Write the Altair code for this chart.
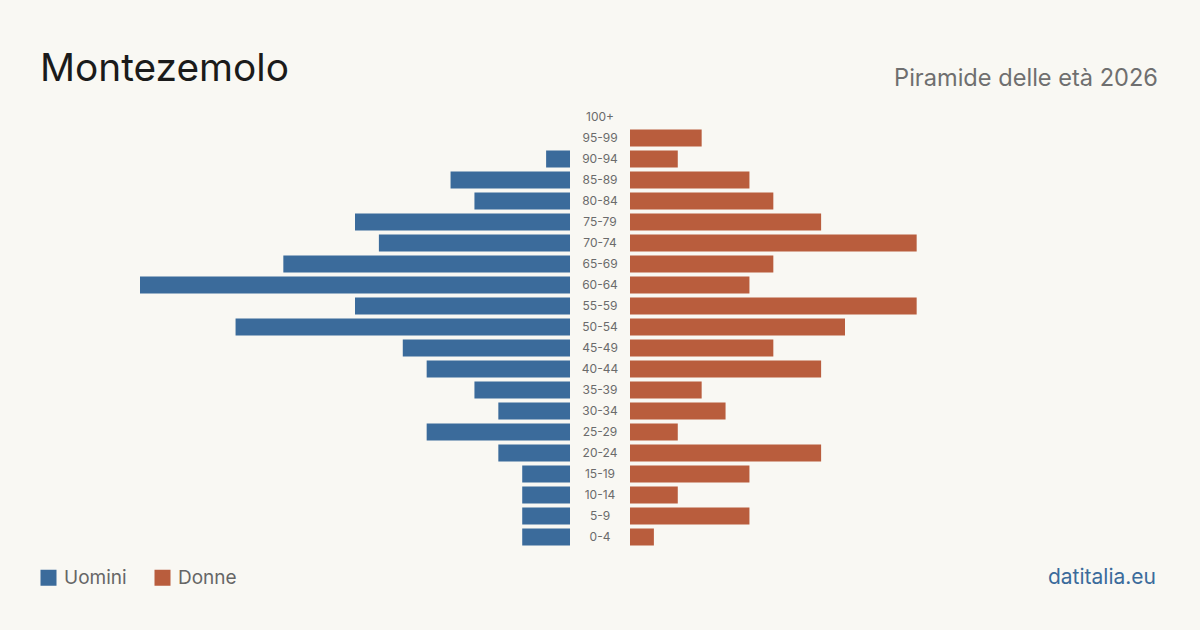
import altair as alt
import pandas as pd

# Age bands from oldest (top) to youngest (bottom)
classi = ["100+", "95-99", "90-94", "85-89", "80-84", "75-79", "70-74", "65-69",
          "60-64", "55-59", "50-54", "45-49", "40-44", "35-39", "30-34", "25-29",
          "20-24", "15-19", "10-14", "5-9", "0-4"]
uomini = [0, 0, 1, 5, 4, 9, 8, 12, 18, 9, 14, 7, 6, 4, 3, 6, 3, 2, 2, 2, 2]
donne = [0, 3, 2, 5, 6, 8, 12, 6, 5, 12, 9, 6, 8, 3, 4, 2, 8, 5, 2, 5, 1]

BLU = "#3b6b9b"
ROSSO = "#b95d3d"
SFONDO = "#f9f8f3"
FONT = "Inter"

W = 920          # plot area: both halves plus the label column
H = 441
TOP = 106.5
LEFT = 140
MAX = 18
GAP = 30 * MAX / 430   # half of the central label column, in data units

df = pd.DataFrame(
    [{"classe": c, "sesso": "Uomini", "n": u} for c, u in zip(classi, uomini)]
    + [{"classe": c, "sesso": "Donne", "n": d} for c, d in zip(classi, donne)]
)

y_enc = alt.Y("classe:N", sort=classi, axis=None,
              scale=alt.Scale(paddingInner=0.19, paddingOuter=0.095))
x_scale = alt.Scale(domain=[-(MAX + GAP), MAX + GAP], nice=False, zero=False)

base = alt.Chart(df)
uno = alt.Data(values=[{"k": 1}])

barre = base.transform_calculate(
    inizio=f"datum.sesso == 'Uomini' ? -{GAP} : {GAP}",
    fine=f"datum.sesso == 'Uomini' ? -({GAP} + datum.n) : {GAP} + datum.n",
).transform_filter(alt.datum.n > 0).mark_bar().encode(
    x=alt.X("inizio:Q", axis=None, scale=x_scale),
    x2="fine:Q",
    y=y_enc,
    color=alt.Color(
        "sesso:N",
        scale=alt.Scale(domain=["Uomini", "Donne"], range=[BLU, ROSSO]),
        legend=alt.Legend(orient="none", direction="horizontal",
                          legendX=39 - LEFT, legendY=568 - TOP, title=None,
                          symbolType="square", symbolSize=256,
                          symbolStrokeWidth=0, symbolOpacity=1,
                          labelFontSize=19, labelColor="#666666",
                          labelFont=FONT, labelOffset=6,
                          columnPadding=26, padding=0),
    ),
)

etichette = base.transform_filter(alt.datum.sesso == "Uomini").mark_text(
    fontSize=12, font=FONT, color="#6b6b6b", align="center", baseline="middle"
).transform_calculate(centro="0").encode(
    x=alt.X("centro:Q", scale=x_scale, axis=None),
    y=y_enc,
    text="classe:N",
)

titolo = alt.Chart(uno).mark_text(
    text="Montezemolo", align="left", baseline="alphabetic",
    fontSize=38.8, font=FONT, color="#1b1b1b"
).encode(x=alt.value(40 - LEFT), y=alt.value(80.7 - TOP))

sottotitolo = alt.Chart(uno).mark_text(
    text="Piramide delle età 2026", align="right", baseline="alphabetic",
    fontSize=23.6, font=FONT, color="#6f6f6f"
).encode(x=alt.value(1158 - LEFT), y=alt.value(85.7 - TOP))

fonte = alt.Chart(uno).mark_text(
    text="datitalia.eu", align="right", baseline="alphabetic",
    fontSize=21, font=FONT, color=BLU
).encode(x=alt.value(1156 - LEFT), y=alt.value(583.5 - TOP))

chart = alt.layer(barre, etichette, titolo, sottotitolo, fonte).properties(
    width=W,
    height=H,
    autosize=alt.AutoSizeParams(type="none"),
    padding={"left": LEFT, "top": TOP, "right": 1200 - LEFT - W,
             "bottom": 630 - TOP - H},
    background=SFONDO,
).configure_view(stroke=None)

chart.save("out.html", embed_options={"renderer": "svg", "actions": False})
